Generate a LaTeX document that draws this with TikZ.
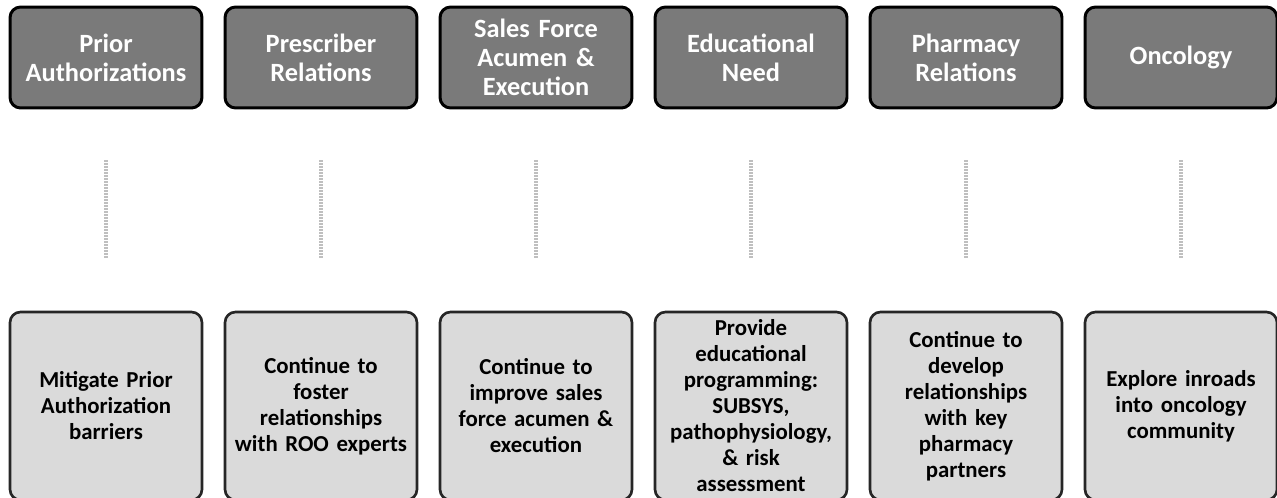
\documentclass[tikz,border=0pt]{standalone}
\usepackage{fontspec}
\setmainfont{Carlito}[WordSpace=0.8]
\begin{document}
\begin{tikzpicture}[x=0.02cm,y=-0.02cm,
  headbox/.style={draw=black, line width=1.7pt, rounded corners=6pt, fill=topgray,
    minimum width=3.84cm, minimum height=2.02cm, inner sep=2pt, align=center,
    text width=3.6cm, text=white, font=\bfseries\fontsize{15}{16.5}\selectfont},
  actbox/.style={draw=black!85, line width=1.5pt, rounded corners=6pt, fill=botgray,
    minimum width=3.84cm, minimum height=3.76cm, inner sep=2pt, align=center,
    text width=3.7cm, text=black, font=\bfseries\fontsize{13}{14.8}\selectfont},
  link/.style={draw=gray!50, line width=2.4pt, dash pattern=on 1pt off 0.7pt,
    shorten <=1.02cm, shorten >=1.04cm}]
\definecolor{topgray}{HTML}{7A7A7A}
\definecolor{botgray}{HTML}{DADADA}
\useasboundingbox (0,0) rectangle (1277,497);
\foreach \i/\t/\b in {
  1/{Prior\\Authorizations}/{Mitigate Prior\\Authorization\\barriers},
  2/{Prescriber\\Relations}/{Continue to\\foster\\relationships\\with ROO experts},
  3/{Sales Force\\Acumen \&\\Execution}/{Continue to\\improve sales\\force acumen \&\\execution},
  4/{Educational\\Need}/{Provide\\educational\\programming:\\SUBSYS,\\pathophysiology,\\\& risk\\assessment},
  5/{Pharmacy\\Relations}/{Continue to\\develop\\relationships\\with key\\pharmacy\\partners},
  6/{Oncology}/{Explore inroads\\into oncology\\community}}{
  \node[headbox] (t\i) at ({106+215*(\i-1)},57.5) {\t};
  \node[actbox] (b\i) at ({106+215*(\i-1)},406) {\b};
  \draw[link] (t\i.south) -- (b\i.north);
}
\end{tikzpicture}
\end{document}
